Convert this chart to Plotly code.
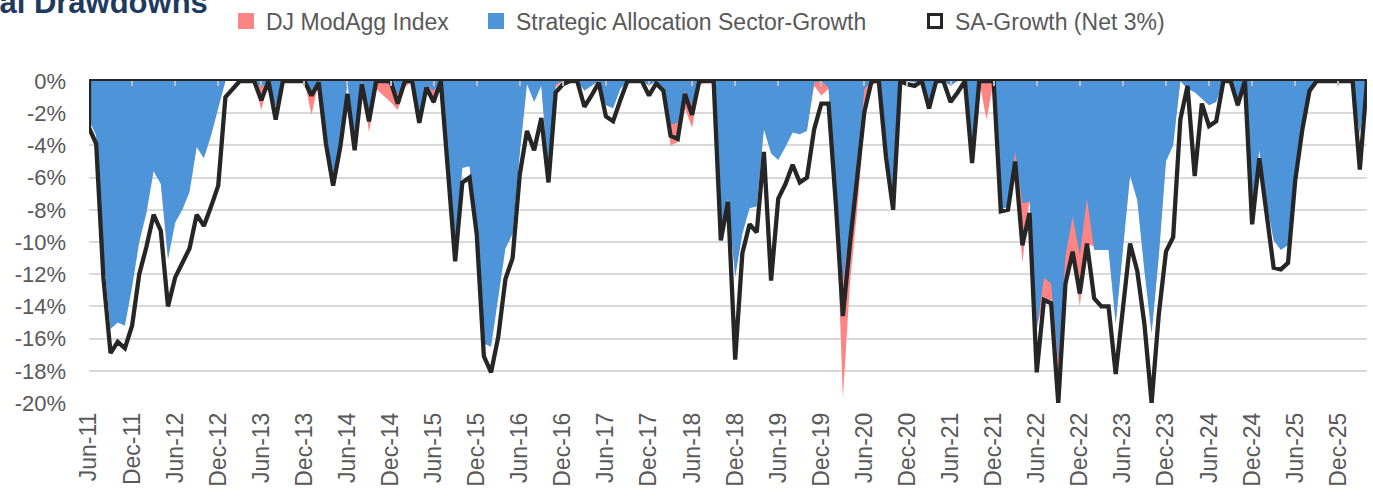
import pandas as pd
import plotly.graph_objects as go

# ---------------- data ----------------
months = pd.date_range("2011-06-01", periods=179, freq="MS").strftime("%b-%y").tolist()

dj_modagg = [
    -2.2, -3.2, -10.5, -15.0, -14.6, -14.8, -12.5, -9.6, -7.8, -5.4,
    -6.2, -10.8, -8.5, -7.7, -6.7, -4.0, -4.6, -3.3, -1.6, 0,
    0, 0, 0, 0, -1.8, 0, -1.5, 0, 0, 0,
    0, -2.1, 0, -3.3, -5.6, -3.6, 0, -3.8, 0, -3.2,
    -0.5, -0.9, -1.3, -1.8, -0.4, 0, -2.2, -0.2, -1.5, 0,
    -5.0, -10.3, -5.3, -5.2, -8.8, -16.0, -16.3, -13.2, -10.1, -9.2,
    -4.3, -0.1, -1.1, -0.2, -5.8, -0.4, 0, 0, 0, -0.5,
    -0.2, 0, -1.4, -1.6, -0.4, 0, 0, 0, -0.2, 0,
    -0.7, -4.0, -3.8, -1.7, -2.9, -0.3, 0, 0, -9.3, -7.0,
    -12.0, -9.3, -7.7, -7.6, -2.9, -4.3, -4.7, -3.9, -3.0, -3.1,
    -2.9, -0.3, -0.9, -0.5, -7.0, -19.7, -12.5, -8.0, -2.5, -0.3,
    0, -4.3, -7.5, 0, 0, 0, 0, -1.3, 0, 0,
    -0.2, 0, 0, -4.6, 0, -2.4, 0, -7.8, -7.5, -5.0,
    -11.3, -7.3, -15.3, -13.6, -13.6, -19.5, -12.5, -10.6, -14.0, -10.1,
    -10.3, -10.3, -10.3, -14.9, -10.3, -5.7, -7.2, -11.6, -15.5, -10.7,
    -4.8, -3.8, 0, -0.4, -0.6, -1.0, -1.4, -1.2, 0, 0,
    -1.7, 0, -8.3, -4.1, -7.4, -9.7, -10.3, -10.0, -5.3, -2.3,
    -0.4, 0, 0, 0, 0, 0, 0, -3.1, 0,
]

sa_growth = [
    -2.4, -3.4, -10.8, -15.4, -15.0, -15.2, -12.8, -10.0, -8.2, -5.6,
    -6.4, -11.1, -8.8, -8.0, -6.9, -4.1, -4.8, -3.4, -1.7, 0,
    0, 0, 0, 0, -0.4, 0, -1.6, 0, 0, 0,
    0, -0.6, 0, -3.6, -6.0, -3.9, -0.1, -4.0, 0, -2.2,
    0, 0, -0.3, -0.8, -0.1, 0, -2.4, -0.3, -0.6, 0,
    -5.0, -10.5, -5.4, -5.3, -9.0, -16.3, -16.5, -13.5, -10.4, -9.5,
    -4.5, -0.2, -1.3, -0.3, -6.0, -0.2, 0, 0, 0, -0.6,
    -0.3, 0, -1.5, -1.7, -0.5, 0, 0, 0, -0.3, 0,
    -0.4, -2.7, -2.6, -0.6, -1.5, 0, 0, 0, -9.5, -7.3,
    -12.2, -9.5, -7.9, -7.8, -3.0, -4.5, -4.9, -4.1, -3.2, -3.3,
    -3.1, -0.1, 0, -0.4, -7.3, -12.5, -9.0, -5.0, -0.5, 0,
    0, -4.5, -7.8, 0, 0, -0.1, 0, -1.5, 0, 0,
    -0.3, 0, 0, -4.8, 0, 0, 0, -8.0, -7.8, -4.4,
    -7.6, -7.5, -15.5, -12.2, -12.6, -17.5, -10.9, -8.4, -10.8, -7.3,
    -10.5, -10.5, -10.5, -15.1, -10.5, -5.9, -7.4, -11.8, -15.7, -10.9,
    -5.0, -4.0, 0, -0.5, -0.7, -1.1, -1.5, -1.3, 0, 0,
    -1.6, 0, -8.5, -4.3, -7.6, -9.9, -10.5, -10.2, -5.5, -2.4,
    -0.5, 0, 0, 0, 0, 0, 0, -3.3, 0,
]

sa_net = [
    -2.9, -3.9, -12.2, -16.9, -16.2, -16.6, -15.2, -12.0, -10.3, -8.3,
    -9.3, -14.0, -12.2, -11.3, -10.4, -8.3, -9.0, -7.8, -6.5, -1.0,
    -0.5, 0, 0, 0, -1.2, 0, -2.4, 0, 0, 0,
    0, -0.9, -0.1, -3.9, -6.5, -4.1, -0.8, -4.3, -0.2, -2.5,
    0, 0, 0, -1.4, 0, 0, -2.6, -0.4, -1.3, 0,
    -5.5, -11.2, -6.3, -6.0, -9.5, -17.1, -18.1, -15.9, -12.3, -11.0,
    -5.8, -3.1, -4.3, -2.3, -6.3, -0.7, -0.2, 0, 0, -1.6,
    -0.9, -0.1, -2.2, -2.5, -1.2, 0, 0, 0, -0.9, -0.15,
    -0.6, -3.4, -3.6, -0.8, -2.1, 0, 0, 0, -9.9, -7.5,
    -17.3, -10.7, -8.9, -9.4, -4.4, -12.4, -7.3, -6.4, -5.2, -6.3,
    -6.0, -3.0, -1.4, -1.4, -7.5, -14.6, -10.0, -5.8, -1.9, 0,
    0, -4.7, -8.0, 0, -0.2, -0.3, 0, -1.7, 0, 0,
    -1.3, -0.7, 0, -5.1, 0, 0, 0, -8.1, -8.0, -5.0,
    -10.2, -8.2, -18.1, -13.6, -13.8, -20.0, -12.6, -10.6, -13.2, -10.1,
    -13.5, -14.0, -14.0, -18.2, -14.1, -10.1, -11.8, -15.1, -20.0, -14.5,
    -10.6, -9.7, -2.4, -0.3, -5.9, -1.4, -2.8, -2.5, 0, 0,
    -1.5, 0, -8.9, -4.8, -8.2, -11.6, -11.7, -11.3, -6.2, -3.0,
    -0.6, 0, 0, 0, 0, 0, 0, -5.5, 0,
]

series_names = ["DJ ModAgg Index", "Strategic Allocation Sector-Growth", "SA-Growth (Net 3%)"]
y_tick_values = [0, -2, -4, -6, -8, -10, -12, -14, -16, -18, -20]
y_tick_labels = ["0%", "-2%", "-4%", "-6%", "-8%", "-10%", "-12%", "-14%", "-16%", "-18%", "-20%"]
title_text = "Historical Drawdowns"

# ---------------- styling ----------------
RED = "#FF8585"
BLUE = "#4D94D9"
DARK = "#262626"
GRAY_TXT = "#595959"
FONT = "Liberation Sans, Arial, sans-serif"

W, H = 1373, 499
ML, MR, MT, MB = 89, 6, 81, 96
PW, PH = W - ML - MR, H - MT - MB

x_idx = list(range(len(months)))
tick_idx = x_idx[::6]
tick_text = [months[i] for i in tick_idx]

fig = go.Figure()

fig.add_trace(go.Scatter(x=x_idx, y=dj_modagg, mode="lines", fill="tozeroy",
                         line=dict(width=0, color=RED), fillcolor=RED,
                         showlegend=False, hoverinfo="skip"))
fig.add_trace(go.Scatter(x=x_idx, y=sa_growth, mode="lines", fill="tozeroy",
                         line=dict(width=0, color=BLUE), fillcolor=BLUE,
                         showlegend=False, hoverinfo="skip"))
# net series drawn as the outline of an unfilled area (closes to zero at both ends)
fig.add_trace(go.Scatter(x=[x_idx[0]] + x_idx + [x_idx[-1]], y=[0] + sa_net + [0],
                         mode="lines", line=dict(width=4.3, color=DARK),
                         showlegend=False, hoverinfo="skip"))

# legend entries (square swatches like the original)
legend_specs = [
    dict(name=series_names[0], legend="legend",
         marker=dict(symbol="square", size=16, color=RED, line=dict(width=0))),
    dict(name=series_names[1], legend="legend2",
         marker=dict(symbol="square", size=16, color=BLUE, line=dict(width=0))),
    dict(name=series_names[2], legend="legend3",
         marker=dict(symbol="square", size=13, color="white", line=dict(width=3, color=DARK))),
]
for spec in legend_specs:
    fig.add_trace(go.Scatter(x=[None], y=[None], mode="markers", xaxis="x2",
                             name=spec["name"], legend=spec["legend"],
                             marker=spec["marker"], showlegend=True, hoverinfo="skip"))


def px_x(p):
    return (p - ML) / PW


def px_y(p):
    return 1 + (MT - p) / PH


leg_common = dict(orientation="h", yanchor="middle", y=px_y(21), xanchor="left",
                  font=dict(family=FONT, size=23, color=GRAY_TXT),
                  bgcolor="rgba(0,0,0,0)", itemwidth=30, itemclick=False)

fig.update_layout(
    width=W, height=H,
    margin=dict(l=ML, r=MR, t=MT, b=MB, pad=0, autoexpand=False),
    paper_bgcolor="white", plot_bgcolor="white",
    font=dict(family=FONT, color=GRAY_TXT),
    legend=dict(x=px_x(226), **leg_common),
    legend2=dict(x=px_x(476), **leg_common),
    legend3=dict(x=px_x(915), **leg_common),
    xaxis=dict(range=[x_idx[0], x_idx[-1]], tickmode="array", tickvals=tick_idx,
               ticktext=tick_text, tickangle=-90, ticks="", showgrid=False,
               zeroline=False, showline=False,
               tickfont=dict(family=FONT, size=23, color=GRAY_TXT),
               ticklabelstandoff=4),
    xaxis2=dict(range=[x_idx[0], x_idx[-1]], overlaying="x", side="top", anchor="y",
                tickmode="array", tickvals=tick_idx, showticklabels=False,
                ticks="inside", ticklen=5, tickwidth=1.5, tickcolor="#BFBFBF",
                showline=True, linecolor=DARK, linewidth=2,
                showgrid=False, zeroline=False),
    yaxis=dict(range=[-20, 0], tickmode="array", tickvals=y_tick_values,
               ticktext=y_tick_labels, showgrid=True, gridcolor="#D9D9D9",
               gridwidth=1.6, zeroline=False, showline=False, ticks="",
               tickfont=dict(family=FONT, size=22, color=GRAY_TXT),
               ticklabelstandoff=22),
    annotations=[dict(text=title_text, xref="paper", yref="paper",
                      x=px_x(210), y=px_y(22), xanchor="right", yanchor="bottom",
                      showarrow=False,
                      font=dict(family=FONT, size=31, color="#1F3A5F", weight="bold"))],
)

fig.write_html("out.html", config={"displayModeBar": False},
               post_script="document.body.style.margin='0';document.body.style.overflow='hidden';")
